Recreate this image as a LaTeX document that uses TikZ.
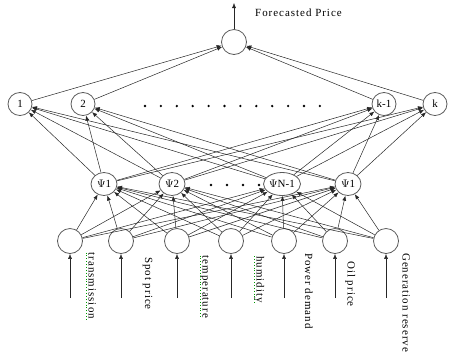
\documentclass[tikz,border=0pt]{standalone}
\usepackage{fontspec}
\setmainfont{Liberation Serif}
\newfontfamily\lblfont[LetterSpace=9]{Liberation Serif}
\usetikzlibrary{arrows.meta,shapes.geometric}
\begin{document}
\begin{tikzpicture}[x=1bp,y=-1bp,
  neuron/.style={draw=black!65, line width=0.8pt, circle, inner sep=0pt, minimum size=25bp},
  topn/.style={draw=black!65, line width=0.8pt, ellipse, inner sep=0pt, minimum width=24bp, minimum height=23bp, font=\fontsize{11}{12}\selectfont},
  psin/.style={draw=black!65, line width=0.8pt, ellipse, inner sep=0pt, minimum width=26bp, minimum height=23bp, font=\fontsize{11}{12}\selectfont},
  conn/.style={-{Latex[length=5bp,width=4bp]}, line width=0.5pt, black!85},
  lbl/.style={rotate=-90, anchor=base west, inner sep=0pt, font=\lblfont\fontsize{11}{12}\selectfont},
  squig/.style={green!60!black, dotted, line width=0.9pt},
  dot/.style={circle, fill=black, inner sep=0pt, minimum size=2.6bp}
]
\useasboundingbox (0,0) rectangle (449,356);

% output
\node[neuron] (out) at (234,42) {};
\coordinate (top) at (234,3);
\draw[conn] (out) -- (top);
\node[anchor=base west, inner sep=0pt, font=\lblfont\fontsize{11}{12}\selectfont] (fp) at (255,16.5) {Forecasted Price};

% top hidden layer
\node[topn] (h1) at (20,104) {1};
\node[topn] (h2) at (83,104) {2};
\node[topn] (h3) at (384,104) {k-1};
\node[topn] (h4) at (435,104) {k};
\foreach \i in {0,...,11} {
  \node[dot] (d\i) at ({145+\i*15.9},106) {};
}

% psi layer
\node[psin] (p1) at (104,184) {$\Psi$1};
\node[psin] (p2) at (172,184) {$\Psi$2};
\node[psin, minimum width=37bp] (p3) at (282,184) {$\Psi$N-1};
\node[psin] (p4) at (348,184) {$\Psi$1};
\foreach \i/\x in {0/211,1/227,2/243,3/259} {
  \node[dot] (e\i) at (\x,185) {};
}

% inputs
\foreach \i/\x in {1/70,2/121,3/177,4/231,5/284,6/335,7/386} {
  \node[neuron] (in\i) at (\x,241) {};
  \coordinate (b\i) at (\x,298);
  \draw[conn] (b\i) -- (in\i);
}

% connections
\foreach \i in {1,...,7} {
  \foreach \j in {1,...,4} {
    \draw[conn] (in\i) -- (p\j);
  }
}
\foreach \i in {1,...,4} {
  \foreach \j in {1,...,4} {
    \draw[conn] (p\i) -- (h\j);
  }
  \draw[conn] (h\i) -- (out);
}

% labels
\node[lbl] (l1) at (88.5,252.5) {transmission};
\node[lbl] (l2) at (145,257) {Spot price};
\node[lbl] (l3) at (202.5,255.5) {temperature};
\node[lbl] (l4) at (256.5,256) {humidity};
\node[lbl] (l5) at (305,253) {Power demand};
\node[lbl] (l6) at (347.5,261) {Oil price};
\node[lbl] (l7) at (402.5,253) {Generation reserve};
\draw[squig] ([xshift=-2bp]l1.base west) -- ([xshift=-2bp]l1.base east);
\draw[squig] ([xshift=-2bp]l3.base west) -- ([xshift=-2bp]l3.base east);
\draw[squig] ([xshift=-2bp]l4.base west) -- ([xshift=-2bp]l4.base east);
\end{tikzpicture}
\end{document}
